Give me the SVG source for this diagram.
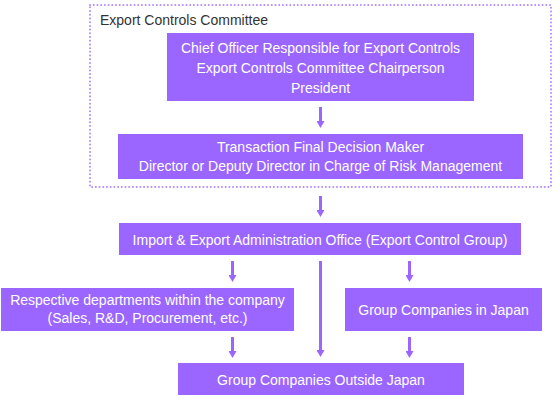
<svg xmlns="http://www.w3.org/2000/svg" width="560" height="410" viewBox="0 0 560 410">
<defs>
<style>
.box{fill:#9b66ff}
.t{font-family:"Liberation Sans",Arial,sans-serif;font-size:14px;fill:#ffffff;text-anchor:middle}
.title{font-family:"Liberation Sans",Arial,sans-serif;font-size:14px;fill:#333333}
.conn line{stroke:#9b66ff;stroke-width:3;marker-end:url(#ah)}
</style>
<marker id="ah" viewBox="0 0 7 8" refX="2" refY="4" markerUnits="userSpaceOnUse" markerWidth="7" markerHeight="8" orient="auto">
<path d="M0,0 L7,4 L0,8 Z" fill="#9b66ff"/>
</marker>
</defs>
<rect fill="#ffffff" width="560" height="410"/>
<g id="committee">
<rect x="90" y="5" width="461" height="182" fill="none" stroke="#b08aff" stroke-width="2" stroke-dasharray="0.01 3.7" stroke-linecap="round"/>
<text class="title" x="100" y="25">Export Controls Committee</text>
</g>
<g id="chief">
<rect class="box" x="167" y="33" width="307" height="68"/>
<text class="t" x="320.5" y="53">Chief Officer Responsible for Export Controls</text>
<text class="t" x="320.5" y="73">Export Controls Committee Chairperson</text>
<text class="t" x="320.5" y="92.5">President</text>
</g>
<g id="decision">
<rect class="box" x="118" y="134" width="405" height="45"/>
<text class="t" x="320.5" y="152">Transaction Final Decision Maker</text>
<text class="t" x="320.5" y="170.5">Director or Deputy Director in Charge of Risk Management</text>
</g>
<g id="office">
<rect class="box" x="119" y="223" width="402" height="32"/>
<text class="t" x="320" y="244.5">Import &amp; Export Administration Office (Export Control Group)</text>
</g>
<g id="departments">
<rect class="box" x="1" y="288" width="293" height="43"/>
<text class="t" x="147.5" y="304.5">Respective departments within the company</text>
<text class="t" x="147.5" y="323">(Sales, R&amp;D, Procurement, etc.)</text>
</g>
<g id="japan">
<rect class="box" x="345" y="288" width="197" height="43"/>
<text class="t" x="443.5" y="314.5">Group Companies in Japan</text>
</g>
<g id="outside">
<rect class="box" x="178" y="363" width="286" height="32"/>
<text class="t" x="321" y="384.5">Group Companies Outside Japan</text>
</g>
<g id="connectors" class="conn">
<line x1="320.5" y1="107" x2="320.5" y2="123"/>
<line x1="320.5" y1="196" x2="320.5" y2="212"/>
<line x1="232.5" y1="261" x2="232.5" y2="277"/>
<line x1="320.5" y1="261" x2="320.5" y2="352"/>
<line x1="409.5" y1="261" x2="409.5" y2="277"/>
<line x1="232.5" y1="337" x2="232.5" y2="353"/>
<line x1="409.5" y1="337" x2="409.5" y2="353"/>
</g>
</svg>
